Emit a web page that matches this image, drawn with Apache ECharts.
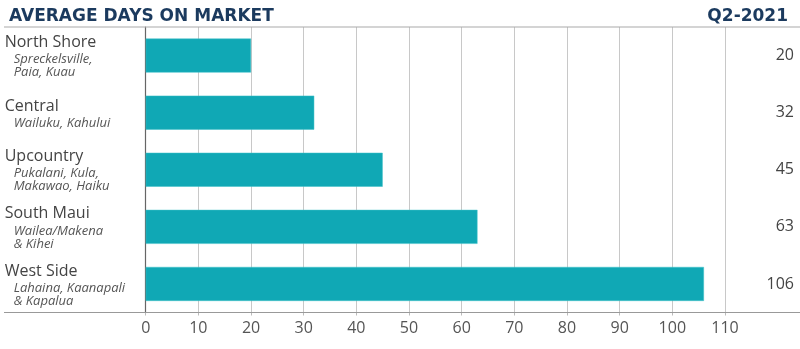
<!DOCTYPE html>
<html><head><meta charset="utf-8">
<script src="https://cdn.jsdelivr.net/npm/echarts@6/dist/echarts.min.js"></script>
<style>html,body{margin:0;padding:0;background:#fff}#c{width:800px;height:349px}</style>
</head><body><div id="c"></div>
<script>
const regions = ['North Shore','Central','Upcountry','South Maui','West Side'];
const subLabels = ['Spreckelsville,\nPaia, Kuau','Wailuku, Kahului','Pukalani, Kula,\nMakawao, Haiku','Wailea/Makena\n& Kihei','Lahaina, Kaanapali\n& Kapalua'];
const daysOnMarket = [20, 32, 45, 63, 106];
const xTicks = [0,10,20,30,40,50,60,70,80,90,100,110];
const title = 'AVERAGE DAYS ON MARKET';
const period = 'Q2-2021';

const FONT = '"Open Sans", sans-serif';
const TFONT = '"DejaVu Sans", sans-serif';
const chart = echarts.init(document.getElementById('c'), null, {renderer:'canvas'});
const catData = regions.map((r,i)=>r+'||'+subLabels[i]);
chart.setOption({
  animation:false,
  textStyle:{fontFamily:FONT},
  title:[
    {text:title,left:4,top:3,textStyle:{fontFamily:TFONT,fontSize:17,fontWeight:'bold',color:'#1b3a5e'}},
    {text:period,right:7,top:3,textStyle:{fontFamily:TFONT,fontSize:17,fontWeight:'bold',color:'#1b3a5e'}}
  ],
  grid:{left:145.7,right:75,top:27,bottom:36.5,containLabel:false},
  xAxis:{type:'value',min:xTicks[0],max:xTicks[xTicks.length-1],interval:10,
    axisLine:{show:false},
    axisTick:{show:true,length:3,lineStyle:{color:'#bbb'}},
    splitLine:{show:true,lineStyle:{color:'#c8c8c8',width:1}},
    axisLabel:{fontSize:16,color:'#555',margin:8,fontFamily:FONT}
  },
  yAxis:[
    {type:'category',data:catData,inverse:true,
     axisLine:{show:true,lineStyle:{color:'#666',width:1.2}},
     axisTick:{show:false},
     axisLabel:{align:'left',margin:141,
       formatter:function(v){const p=v.split('||');const subs=p[1].split('\n').map(s=>'{sub|'+s+'}').join('\n');return '{name|'+p[0]+'}\n'+subs;},
       rich:{
         name:{fontSize:16,color:'#444',lineHeight:21,fontFamily:FONT},
         sub:{fontSize:13,fontStyle:'italic',color:'#555',lineHeight:13,padding:[0,0,0,9],fontFamily:FONT}
       }
     }},
    {type:'category',data:daysOnMarket.map(String),inverse:true,position:'right',
     axisLine:{show:false},axisTick:{show:false},
     axisLabel:{align:'right',margin:69,fontSize:16,color:'#444',fontFamily:FONT}}
  ],
  series:[{type:'bar',data:daysOnMarket,barWidth:34,yAxisIndex:0,
    itemStyle:{color:'#10a8b5',borderColor:'#3fc0c9',borderWidth:0.5},silent:true}],
  graphic:[
    {type:'line',shape:{x1:4,y1:27,x2:800,y2:27},style:{stroke:'#aaa',lineWidth:1.2},z:10},
    {type:'line',shape:{x1:4,y1:312.5,x2:800,y2:312.5},style:{stroke:'#999',lineWidth:1.2},z:10}
  ]
});
</script></body></html>
